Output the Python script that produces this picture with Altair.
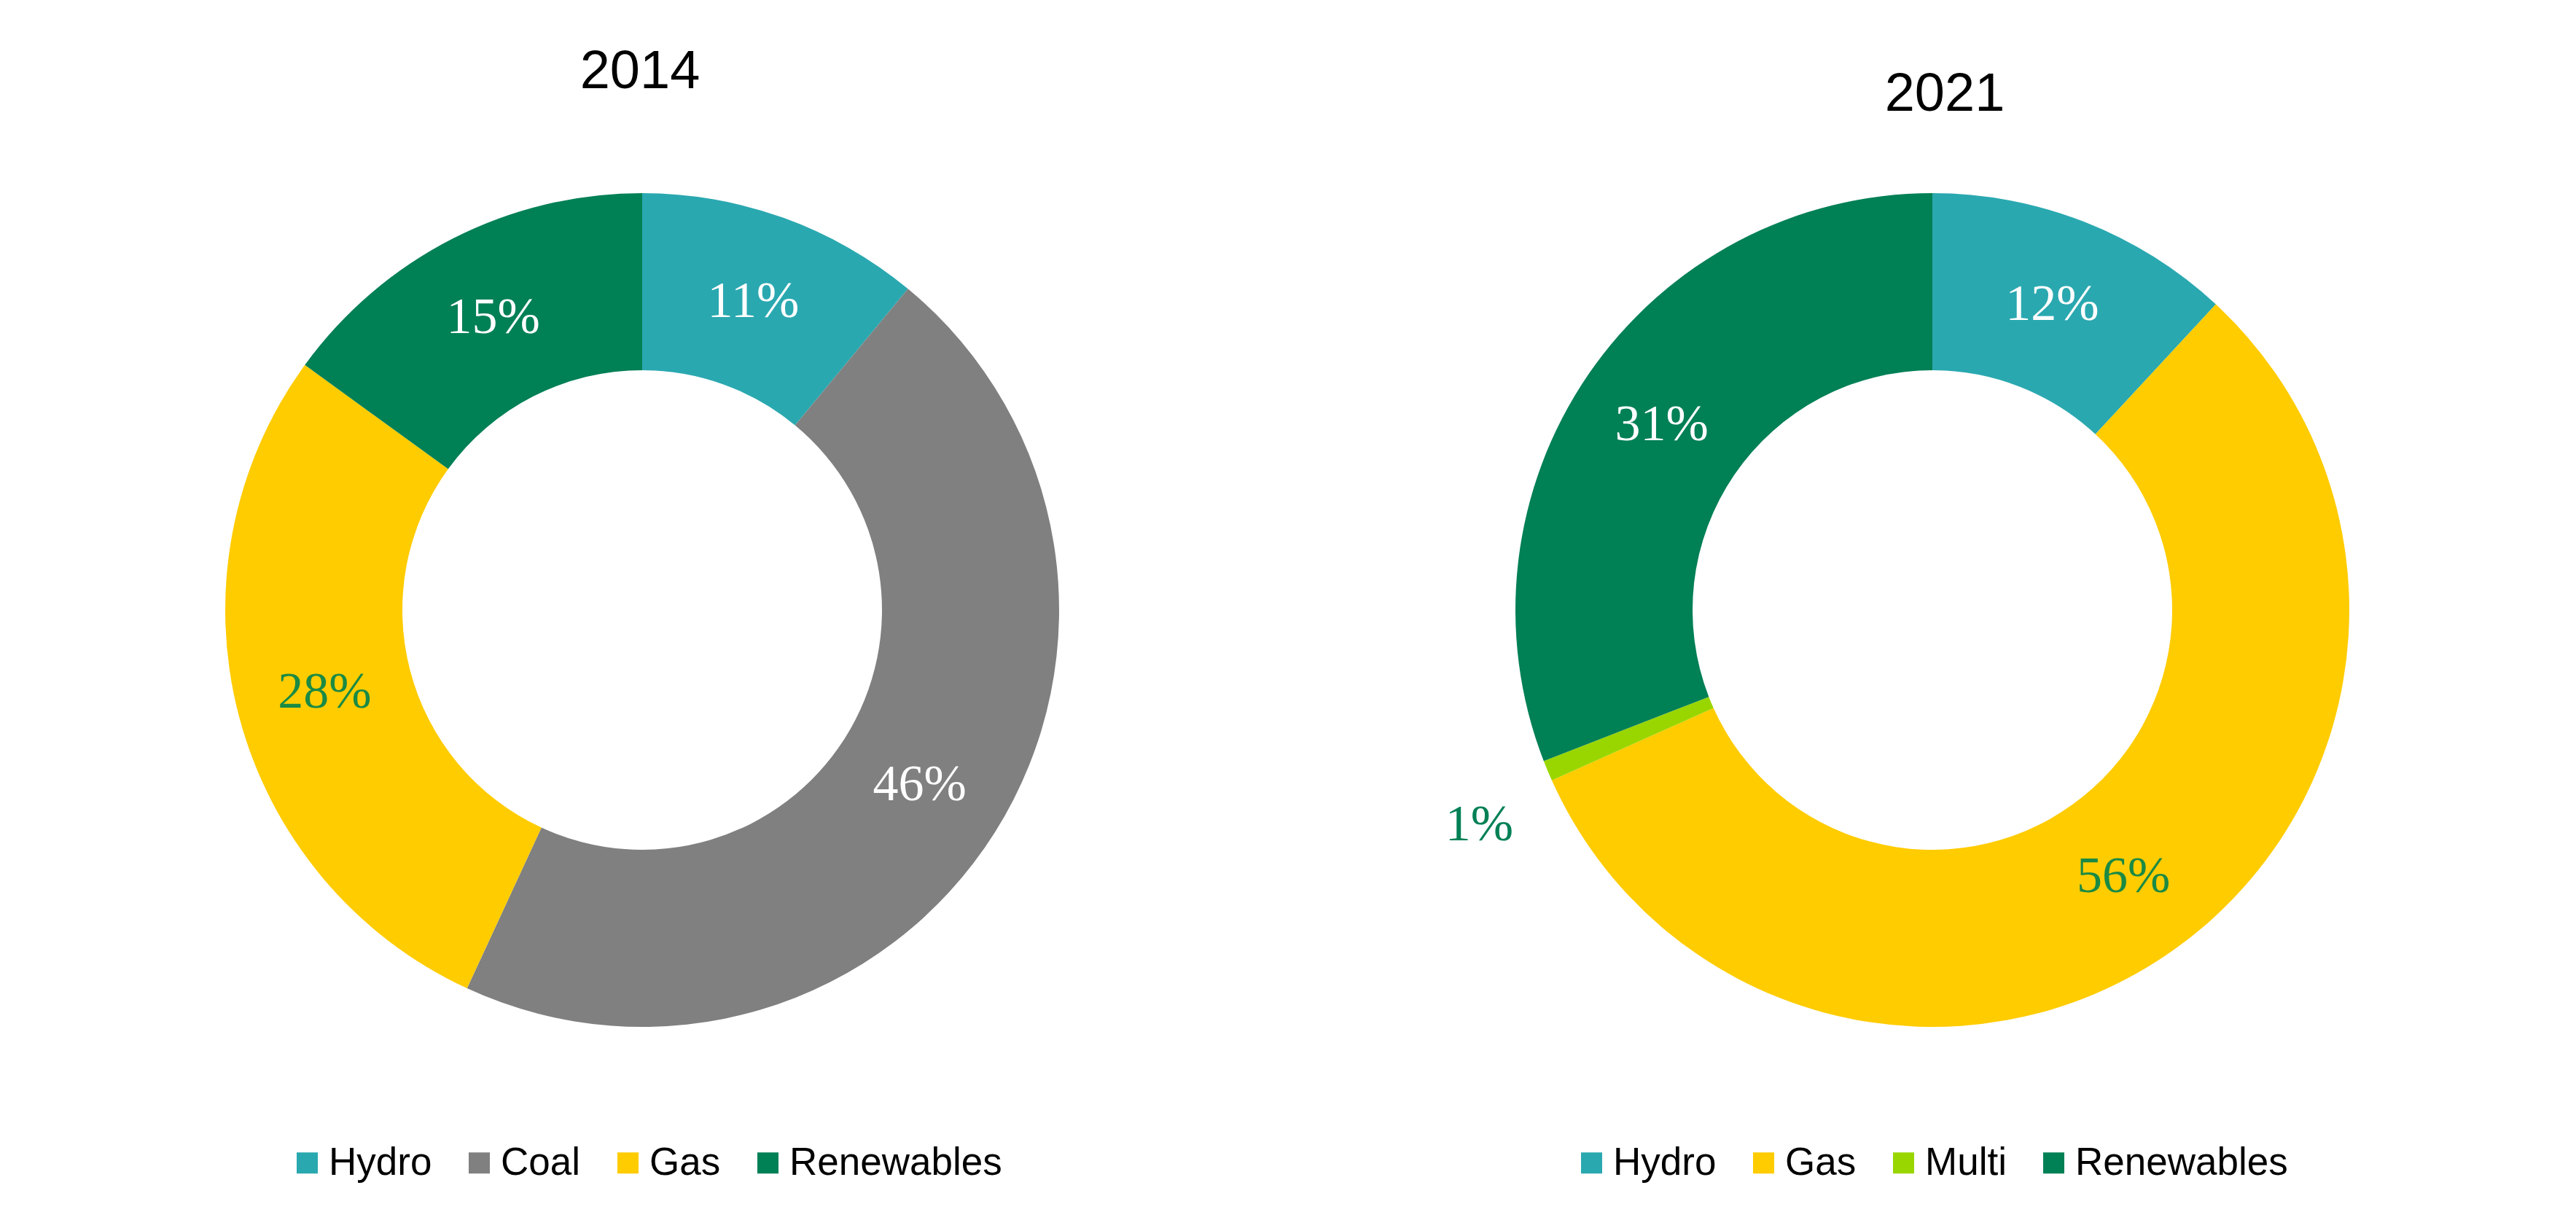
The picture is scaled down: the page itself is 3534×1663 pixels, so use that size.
import altair as alt
import pandas as pd

# 2014 mix
cats_2014 = ["Hydro", "Coal", "Gas", "Renewables"]
vals_2014 = [11.0, 45.9, 28.1, 15.0]
labs_2014 = ["11%", "46%", "28%", "15%"]
cols_2014 = ["#2AA8B0", "#808080", "#FFCC00", "#008055"]

# 2021 mix
cats_2021 = ["Hydro", "Gas", "Multi", "Renewables"]
vals_2021 = [11.9, 56.4, 0.8, 30.9]
labs_2021 = ["12%", "56%", "1%", "31%"]
cols_2021 = ["#2AA8B0", "#FFCC00", "#99D600", "#008055"]

W, H = 1736, 1300
R_OUT, R_IN = 572, 329
R_LAB, R_OUTLAB = 450, 688
GAS_GREEN = "#1A8A44"


def panel(year, cats, vals, labs, cols, title_offset, title_dx, legend_x, legend_y):
    df = pd.DataFrame({"source": cats, "value": vals, "label": labs,
                       "order": list(range(len(cats)))})
    theta_scale = alt.Scale(domain=[0, 1])
    color = alt.Color(
        "source:N",
        scale=alt.Scale(domain=cats, range=cols),
        sort=cats,
        legend=alt.Legend(
            title=None, orient="none", direction="horizontal",
            legendX=legend_x, legendY=legend_y,
            symbolType="square", symbolSize=840, symbolStrokeWidth=0,
            labelFont="Liberation Sans", labelFontSize=53, labelColor="black",
            labelOffset=3, columnPadding=38, labelLimit=600, padding=0,
        ),
    )
    base = alt.Chart(df).transform_window(
        cum="sum(value)", sort=[alt.SortField("order")], frame=[None, 0]
    ).transform_joinaggregate(total="sum(value)").transform_calculate(
        start="(datum.cum - datum.value) / datum.total",
        end="datum.cum / datum.total",
        mid="(datum.cum - datum.value / 2) / datum.total",
    )
    arcs = base.mark_arc(outerRadius=R_OUT, innerRadius=R_IN, stroke=None).encode(
        theta=alt.Theta("start:Q", scale=theta_scale),
        theta2="end:Q",
        color=color,
    )
    txt_color = alt.condition("datum.source === 'Gas'", alt.value(GAS_GREEN), alt.value("white"))
    inner = base.transform_filter("datum.value >= 3").mark_text(
        radius=R_LAB, font="Liberation Serif", fontSize=70, baseline="middle", align="center"
    ).encode(theta=alt.Theta("mid:Q", scale=theta_scale), text="label:N", color=txt_color)
    outer = base.transform_filter("datum.value < 3").mark_text(
        radius=R_OUTLAB, font="Liberation Serif", fontSize=70, baseline="middle", align="center",
        color="#008055", thetaOffset=-0.047,
    ).encode(theta=alt.Theta("mid:Q", scale=theta_scale), text="label:N")
    return alt.layer(arcs, inner, outer).properties(
        width=W, height=H,
        title=alt.TitleParams(
            text=year, font="Liberation Sans", fontSize=74, fontWeight="normal",
            color="black", anchor="middle", baseline="alphabetic", frame="group",
            offset=title_offset, dx=title_dx,
        ),
    )


left = panel("2014", cats_2014, vals_2014, labs_2014, cols_2014, -8, -3, 382, 1382)
right = panel("2021", cats_2021, vals_2021, labs_2021, cols_2021, -39, 17, 374, 1382)

chart = alt.hconcat(left, right, spacing=34).resolve_scale(
    color="independent", theta="independent"
).configure_view(stroke=None).properties(
    padding={"left": 5, "top": 54, "right": 5, "bottom": 5}
)

chart.save("out.html", embed_options={"renderer": "svg", "actions": False})
